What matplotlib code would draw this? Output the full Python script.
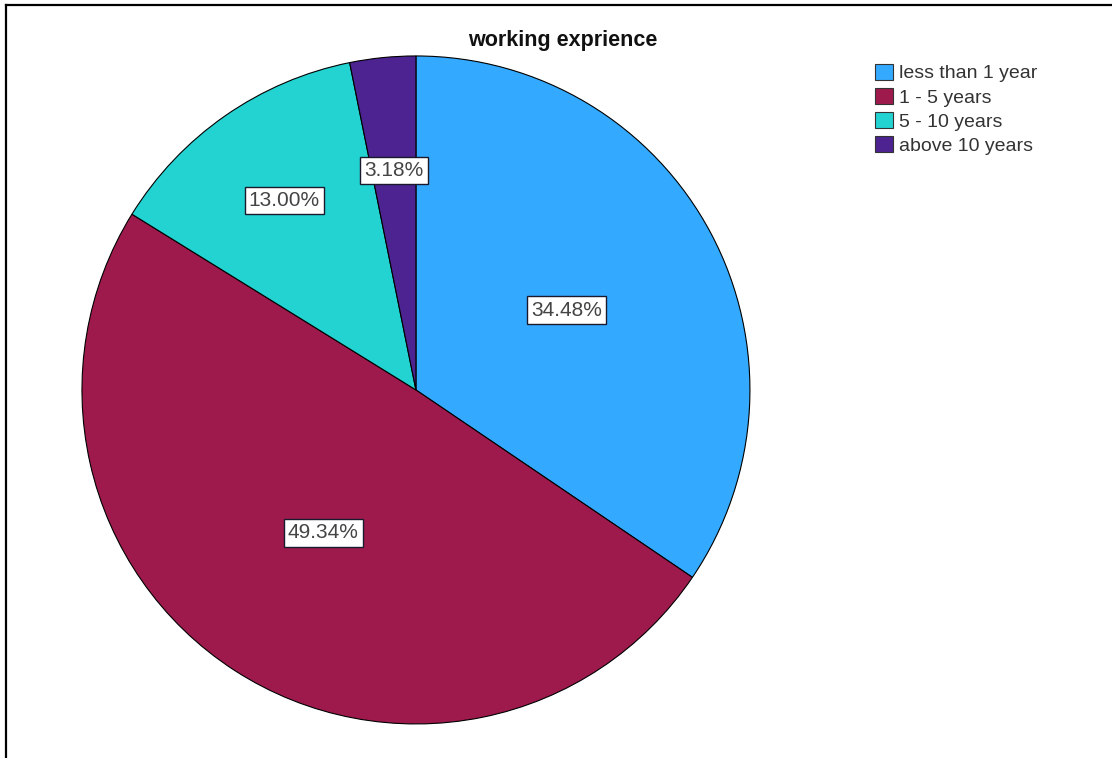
import matplotlib
matplotlib.use("Agg")
import matplotlib.pyplot as plt
import numpy as np
from matplotlib.patches import Patch
from matplotlib.lines import Line2D

categories = ["less than 1 year", "1 - 5 years", "5 - 10 years", "above 10 years"]
values = [34.48, 49.34, 13.00, 3.18]
labels = ["34.48%", "49.34%", "13.00%", "3.18%"]
colors = ["#33AAFF", "#9E1A4D", "#23D3D2", "#4C2391"]
label_dist = [0.51, 0.51, 0.69, 0.66]

plt.rcParams['font.family'] = ['Liberation Sans', 'DejaVu Sans']

fig = plt.figure(figsize=(11.12, 7.58), dpi=100)
ax = fig.add_axes([0.0737, 0.0449, 0.6007, 0.8813])
wedges, _ = ax.pie(values, colors=colors, startangle=90, counterclock=False,
                   wedgeprops=dict(edgecolor="black", linewidth=0.8))
ax.set_xlim(-1, 1)
ax.set_ylim(-1, 1)
ax.set_aspect('equal')

for w, lab, d in zip(wedges, labels, label_dist):
    ang = np.deg2rad((w.theta1 + w.theta2) / 2)
    ax.text(d * np.cos(ang), d * np.sin(ang), lab, ha="center", va="center",
            fontsize=15, color="#444444",
            bbox=dict(boxstyle="square,pad=0.2", facecolor="white",
                      edgecolor="#1a1a2e", linewidth=1.0))

fig.text(0.506, 0.947, "working exprience", ha="center", va="center",
         fontsize=15.5, fontweight="bold", color="#111111")

handles = [Patch(facecolor=c, edgecolor="#333333", linewidth=0.8) for c in colors]
leg = fig.legend(handles, categories, loc="upper left", bbox_to_anchor=(0.787, 0.916),
                 frameon=False, fontsize=14, handlelength=0.93, handleheight=0.9,
                 handletextpad=0.3, labelspacing=0.28, borderaxespad=0, borderpad=0)
for t in leg.get_texts():
    t.set_color("#333333")

# frame lines (top and left)
fig.add_artist(Line2D([0.005, 1.0], [0.9935, 0.9935], transform=fig.transFigure,
                      color="black", linewidth=1.6))
fig.add_artist(Line2D([0.005, 0.005], [0.0, 0.9935], transform=fig.transFigure,
                      color="black", linewidth=1.6))

fig.savefig("out.png", dpi=100)
